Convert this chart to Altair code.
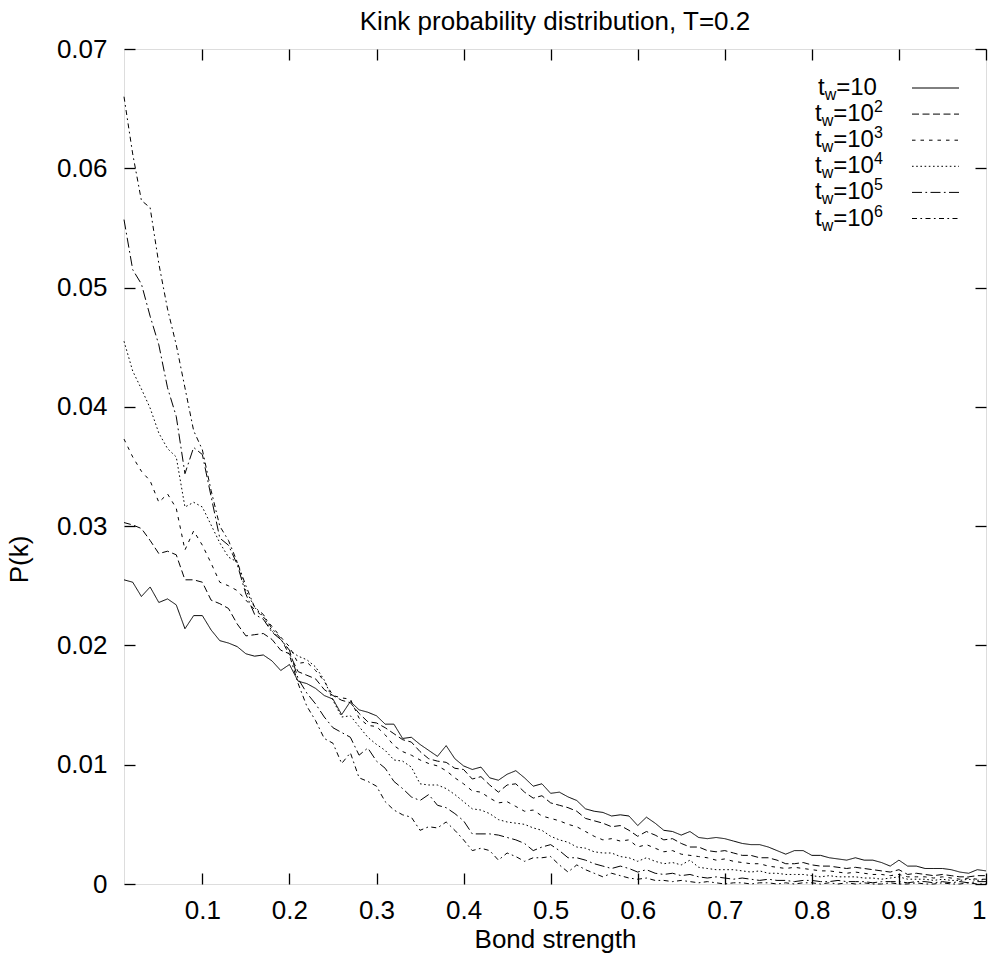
import altair as alt
import pandas as pd

FONT = "Liberation Sans"

# sample positions (bond strength)
x_vals = [round(0.01 * i, 2) for i in range(1, 101)]

series_names = ["tw=10", "tw=10^2", "tw=10^3", "tw=10^4", "tw=10^5", "tw=10^6"]
sup_labels = ["", "2", "3", "4", "5", "6"]

s1 = [.0255,.0253,.0241,.0249,.0236,.0239,.0234,.0214,.0225,.0225,
      .0213,.0204,.0202,.0199,.0193,.0191,.0192,.0187,.0179,.0184,
      .0170,.0168,.0164,.0158,.0155,.0142,.0153,.0146,.0144,.0141,
      .0134,.0134,.0122,.0123,.0117,.0112,.0107,.0116,.0105,.0099,
      .0096,.0098,.0089,.0087,.0092,.0095,.0089,.0082,.0084,.0076,
      .0077,.0073,.0070,.0063,.0061,.0060,.0057,.0058,.0057,.0049,
      .0056,.0051,.0045,.0044,.0041,.0044,.0039,.0038,.0039,.0038,
      .0036,.0034,.0033,.0033,.0031,.0028,.0025,.0028,.0028,.0024,
      .0024,.0022,.0021,.0020,.0022,.0020,.0020,.0018,.0015,.0020,
      .0015,.0015,.0013,.0013,.0013,.0012,.0010,.0009,.0012,.0011]

s2 = [.0303,.0301,.0298,.0288,.0277,.0279,.0276,.0255,.0255,.0253,
      .0238,.0235,.0231,.0218,.0208,.0209,.0210,.0205,.0196,.0193,
      .0178,.0175,.0172,.0163,.0158,.0154,.0152,.0143,.0136,.0135,
      .0131,.0126,.0121,.0119,.0111,.0105,.0103,.0102,.0097,.0096,
      .0088,.0090,.0083,.0077,.0083,.0084,.0077,.0072,.0074,.0068,
      .0066,.0064,.0061,.0055,.0053,.0051,.0048,.0049,.0045,.0040,
      .0044,.0041,.0037,.0038,.0034,.0031,.0031,.0028,.0027,.0028,
      .0026,.0024,.0024,.0022,.0022,.0020,.0017,.0017,.0018,.0016,
      .0015,.0015,.0014,.0013,.0014,.0013,.0012,.0011,.0010,.0012,
      .0008,.0009,.0008,.0007,.0008,.0007,.0006,.0006,.0007,.0007]

s3 = [.0373,.0358,.0346,.0338,.0320,.0327,.0315,.0280,.0296,.0284,
      .0269,.0253,.0250,.0246,.0238,.0230,.0224,.0216,.0207,.0199,
      .0185,.0186,.0179,.0170,.0158,.0156,.0155,.0139,.0133,.0132,
      .0125,.0116,.0111,.0108,.0104,.0101,.0099,.0095,.0089,.0084,
      .0078,.0077,.0072,.0068,.0069,.0065,.0061,.0062,.0057,.0055,
      .0053,.0050,.0048,.0044,.0040,.0037,.0038,.0036,.0037,.0031,
      .0033,.0030,.0027,.0028,.0025,.0024,.0023,.0022,.0020,.0021,
      .0019,.0018,.0017,.0017,.0015,.0014,.0013,.0014,.0013,.0012,
      .0011,.0011,.0010,.0009,.0010,.0009,.0008,.0008,.0007,.0008,
      .0006,.0006,.0006,.0005,.0006,.0005,.0004,.0005,.0004,.0004]

s4 = [.0455,.0430,.0415,.0399,.0378,.0365,.0358,.0316,.0320,.0316,
      .0301,.0286,.0274,.0270,.0246,.0232,.0224,.0212,.0205,.0196,
      .0191,.0188,.0182,.0171,.0154,.0140,.0141,.0132,.0123,.0117,
      .0112,.0104,.0103,.0098,.0084,.0083,.0083,.0080,.0075,.0069,
      .0063,.0062,.0059,.0054,.0052,.0051,.0050,.0047,.0045,.0040,
      .0037,.0035,.0031,.0030,.0027,.0026,.0026,.0023,.0022,.0019,
      .0022,.0019,.0017,.0018,.0016,.0020,.0014,.0013,.0012,.0012,
      .0012,.0011,.0010,.0011,.0009,.0009,.0008,.0008,.0008,.0007,
      .0006,.0007,.0006,.0006,.0006,.0005,.0005,.0004,.0005,.0006,
      .0004,.0004,.0004,.0003,.0004,.0003,.0003,.0004,.0003,.0004]

s5 = [.0557,.0515,.0503,.0476,.0452,.0416,.0392,.0344,.0366,.0360,
      .0325,.0290,.0284,.0268,.0243,.0226,.0222,.0211,.0205,.0196,
      .0172,.0160,.0151,.0140,.0131,.0127,.0123,.0108,.0114,.0103,
      .0097,.0086,.0080,.0073,.0070,.0075,.0066,.0064,.0059,.0053,
      .0042,.0042,.0042,.0041,.0039,.0037,.0034,.0028,.0031,.0033,
      .0028,.0022,.0022,.0020,.0017,.0015,.0013,.0015,.0013,.0010,
      .0012,.0009,.0008,.0009,.0007,.0008,.0006,.0005,.0006,.0005,
      .0004,.0005,.0004,.0003,.0004,.0003,.0003,.0002,.0003,.0003,
      .0002,.0002,.0003,.0002,.0002,.0002,.0001,.0002,.0002,.0002,
      .0001,.0002,.0002,.0001,.0002,.0001,.0002,.0001,.0002,.0002]

s6 = [.0660,.0612,.0573,.0567,.0520,.0482,.0452,.0416,.0380,.0364,
      .0330,.0300,.0288,.0270,.0250,.0232,.0226,.0214,.0206,.0192,
      .0168,.0149,.0137,.0122,.0118,.0101,.0110,.0089,.0086,.0082,
      .0069,.0062,.0058,.0056,.0045,.0048,.0047,.0052,.0045,.0037,
      .0028,.0030,.0028,.0020,.0026,.0023,.0019,.0022,.0022,.0023,
      .0016,.0010,.0016,.0012,.0009,.0006,.0009,.0007,.0005,.0004,
      .0005,.0003,.0003,.0002,.0003,.0002,.0001,.0002,.0001,.0000,
      .0001,.0001,.0000,.0001,.0001,.0000,.0001,.0000,.0001,.0001,
      .0000,.0001,.0000,.0001,.0000,.0001,.0000,.0000,.0001,.0000,
      .0000,.0001,.0000,.0000,.0001,.0000,.0000,.0001,.0000,.0000]

x_ticks = [0.1, 0.2, 0.3, 0.4, 0.5, 0.6, 0.7, 0.8, 0.9, 1.0]
y_ticks = [0, 0.01, 0.02, 0.03, 0.04, 0.05, 0.06, 0.07]

all_series = [s1, s2, s3, s4, s5, s6]
rows = []
for name, vals in zip(series_names, all_series):
    for xv, yv in zip(x_vals, vals):
        rows.append({"x": xv, "y": yv, "series": name})
df = pd.DataFrame(rows)

legend_df = pd.DataFrame({"series": series_names, "row": list(range(6)), "sup": sup_labels})

dash_range = [[1, 0], [7, 3.5], [3.5, 5], [1.6, 2.6], [10, 3.4, 1.7, 3.4], [5, 3.4, 1.7, 3.4]]
sd = alt.StrokeDash("series:N", scale=alt.Scale(domain=series_names, range=dash_range), legend=None)

xscale = alt.Scale(domain=[0.01, 1.0], nice=False, zero=False)
yscale = alt.Scale(domain=[0, 0.07], nice=False, zero=False)

FS = 26

lines = alt.Chart(df).mark_line(color="black", strokeWidth=1).encode(
    x=alt.X("x:Q", scale=xscale, title="Bond strength",
            axis=alt.Axis(values=x_ticks, format="~g", ticks=False, domain=False, grid=False,
                          labelFont=FONT, labelFontSize=FS, labelColor="black", labelPadding=13,
                          titleFont=FONT, titleFontSize=FS, titleFontWeight="normal", titleColor="black",
                          titlePadding=3)),
    y=alt.Y("y:Q", scale=yscale, title="P(k)",
            axis=alt.Axis(values=y_ticks, format=".2~f", ticks=False, domain=False, grid=False,
                          labelFont=FONT, labelFontSize=FS, labelColor="black", labelPadding=17,
                          titleFont=FONT, titleFontSize=FS, titleFontWeight="normal", titleColor="black",
                          titleX=-92, titleY=510, titleAngle=-90)),
    strokeDash=sd,
    detail="series:N",
)

def tick_layer(xorient, yorient):
    return alt.Chart(df).mark_point(opacity=0).encode(
        x=alt.X("x:Q", scale=xscale, title=None,
                axis=alt.Axis(orient=xorient, values=x_ticks, labels=False, domain=False, grid=False,
                              ticks=True, tickSize=11, tickWidth=1.3, tickColor="black", offset=-11)),
        y=alt.Y("y:Q", scale=yscale, title=None,
                axis=alt.Axis(orient=yorient, values=y_ticks, labels=False, domain=False, grid=False,
                              ticks=True, tickSize=11, tickWidth=1.3, tickColor="black", offset=-11)),
    )

ticks_a = tick_layer("bottom", "left")
ticks_b = tick_layer("top", "right")

leg_base = alt.Chart(legend_df).transform_calculate(
    ly="39 + 26.1*datum.row",
    ty="39 + 26.1*datum.row + 7",
    sy="39 + 26.1*datum.row + 12",
    py="39 + 26.1*datum.row - 2",
    tx="datum.row == 0 ? 694 : 691",
)

leg_lines = leg_base.mark_rule(color="black", strokeWidth=1).encode(
    x=alt.value(788), x2=alt.value(835),
    y=alt.Y("ly:Q", scale=None, axis=None),
    strokeDash=sd,
)

leg_t = leg_base.mark_text(align="left", baseline="alphabetic", font=FONT, fontSize=24, color="black").encode(
    x=alt.X("tx:Q", scale=None, axis=None),
    y=alt.Y("ty:Q", scale=None, axis=None),
    text=alt.value("t"),
)
leg_w = leg_base.transform_calculate(wx="datum.tx + 6.7").mark_text(
    align="left", baseline="alphabetic", font=FONT, fontSize=16, color="black").encode(
    x=alt.X("wx:Q", scale=None, axis=None),
    y=alt.Y("sy:Q", scale=None, axis=None),
    text=alt.value("w"),
)
leg_eq = leg_base.transform_calculate(ex="datum.tx + 18.2").mark_text(
    align="left", baseline="alphabetic", font=FONT, fontSize=24, color="black").encode(
    x=alt.X("ex:Q", scale=None, axis=None),
    y=alt.Y("ty:Q", scale=None, axis=None),
    text=alt.value("=10"),
)
leg_sup = leg_base.transform_calculate(px="datum.tx + 59").mark_text(
    align="left", baseline="alphabetic", font=FONT, fontSize=16, color="black").encode(
    x=alt.X("px:Q", scale=None, axis=None),
    y=alt.Y("py:Q", scale=None, axis=None),
    text=alt.Text("sup:N"),
)

chart = alt.layer(lines, ticks_a, ticks_b, leg_lines, leg_t, leg_w, leg_eq, leg_sup).resolve_axis(
    x="independent", y="independent"
).properties(
    width=862, height=835,
    title=alt.TitleParams("Kink probability distribution, T=0.2", font=FONT, fontSize=FS,
                          fontWeight="normal", color="black", anchor="middle", offset=1),
    autosize=alt.AutoSizeParams(type="none"),
    padding={"left": 124, "top": 49, "right": 10, "bottom": 71},
).configure_view(stroke="black", strokeWidth=1.5).configure(background="white")

chart.save("out.html", embed_options={"renderer": "svg", "actions": False})
